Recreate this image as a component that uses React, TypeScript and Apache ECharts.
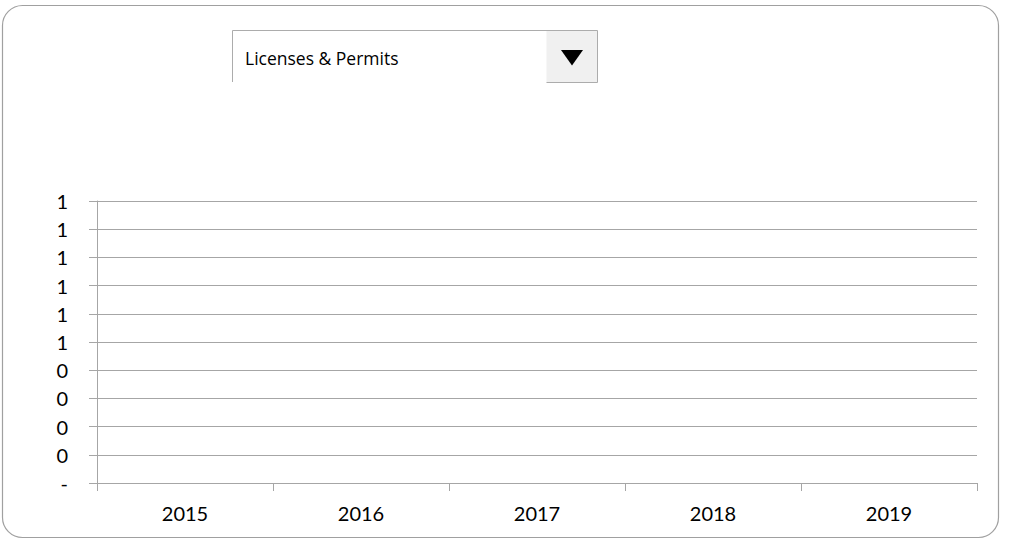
import React, { useEffect, useRef } from "react";
import * as echarts from "echarts";

const categories = ["2015", "2016", "2017", "2018", "2019"];
const seriesValues = [0, 0, 0, 0, 0];
const yTickLabels = ["-", "0", "0", "0", "0", "1", "1", "1", "1", "1", "1"];
const dropdownLabel = "Licenses & Permits";

export default function App() {
  const ref = useRef<HTMLDivElement>(null);
  useEffect(() => {
    if (!ref.current) return;
    const chart = echarts.init(ref.current, null, { renderer: "svg" });
    const grey = "#a6a6a6";
    chart.setOption({
      animation: false,
      backgroundColor: "#ffffff",
      grid: { left: 97, right: 42, top: 201, bottom: 56, containLabel: false },
      xAxis: {
        type: "category",
        data: categories,
        boundaryGap: true,
        axisLine: { show: true, lineStyle: { color: grey, width: 1 } },
        axisTick: { show: true, length: 8, lineStyle: { color: grey } },
        axisLabel: { color: "#000", fontFamily: "Lato", fontSize: 20, margin: 20 },
        splitLine: { show: false },
      },
      yAxis: {
        type: "value",
        min: 0,
        max: 1,
        interval: 0.1,
        axisLine: { show: true, lineStyle: { color: grey, width: 1 } },
        axisTick: { show: true, length: 8, lineStyle: { color: grey } },
        axisLabel: {
          color: "#000",
          fontFamily: "Lato",
          fontSize: 20,
          margin: 29,
          formatter: (v: number) => yTickLabels[Math.round(v * 10)] ?? "",
        },
        splitLine: { show: true, lineStyle: { color: grey, width: 1 } },
      },
      series: [
        {
          type: "bar",
          data: seriesValues,
          itemStyle: { color: "#4472c4" },
          barWidth: "50%",
        },
      ],
      graphic: [
        {
          type: "rect",
          shape: { x: 2.5, y: 5.5, width: 996, height: 532, r: 20 },
          style: { fill: "none", stroke: "#a0a0a0", lineWidth: 1.2 },
          silent: true,
        },
        {
          type: "rect",
          shape: { x: 546.5, y: 30.5, width: 51, height: 52 },
          style: { fill: "#f0f0f0", stroke: "none" },
        },
        {
          type: "line",
          shape: { x1: 232.5, y1: 30.5, x2: 597.5, y2: 30.5 },
          style: { stroke: "#acacac", lineWidth: 1 },
        },
        {
          type: "line",
          shape: { x1: 232.5, y1: 30.5, x2: 232.5, y2: 82 },
          style: { stroke: "#acacac", lineWidth: 1 },
        },
        {
          type: "line",
          shape: { x1: 597.5, y1: 30.5, x2: 597.5, y2: 82.5 },
          style: { stroke: "#acacac", lineWidth: 1 },
        },
        {
          type: "line",
          shape: { x1: 546.5, y1: 82.5, x2: 597.5, y2: 82.5 },
          style: { stroke: "#acacac", lineWidth: 1 },
        },
        {
          type: "polygon",
          shape: { points: [[561, 50], [583, 50], [572, 65.5]] },
          style: { fill: "#000" },
        },
        {
          type: "text",
          x: 245,
          y: 58,
          style: {
            text: dropdownLabel,
            fill: "#000",
            font: "17.5px 'Open Sans'",
            textVerticalAlign: "middle",
            textAlign: "left",
          },
        },
      ],
    });
    return () => chart.dispose();
  }, []);
  return (
    <div
      ref={ref}
      style={{ position: "fixed", left: 0, top: 0, width: 1019, height: 539 }}
    />
  );
}
